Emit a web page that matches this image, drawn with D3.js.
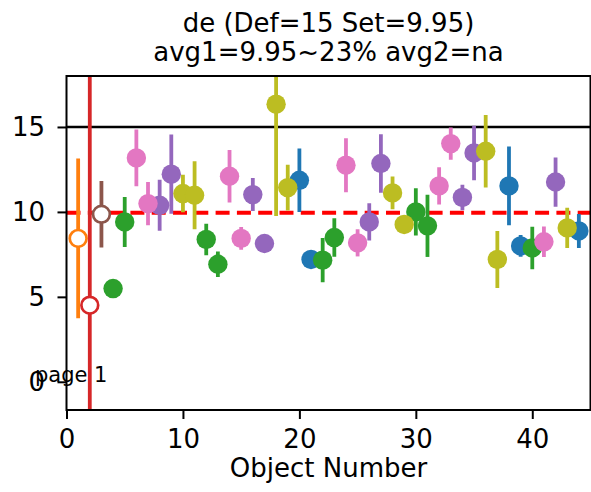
<!DOCTYPE html>
<html>
<head>
<meta charset="utf-8">
<script src="https://cdn.jsdelivr.net/npm/d3@7/dist/d3.min.js"></script>
<style>
  html, body { margin: 0; padding: 0; background: #fff; }
  text { font-family: "DejaVu Sans", sans-serif; }
</style>
</head>
<body>
<svg id="chart" width="591" height="492"></svg>
<script>
// ---- data ----
const objectNumbers = [1,2,3,4,5,6,7,8,9,10,11,12,13,14,15,16,17,18,19,20,21,22,23,24,25,26,27,28,29,30,31,32,33,34,35,36,37,38,39,40,41,42,43,44];
const values = [8.44,4.51,9.86,5.49,9.41,13.18,10.49,10.39,12.22,11.08,10.98,8.38,6.92,12.1,8.44,11.02,8.14,16.34,11.43,11.86,7.2,7.16,8.49,12.75,8.18,9.41,12.85,11.12,9.26,10.0,9.18,11.53,14.02,10.85,13.47,13.57,7.2,11.53,8.0,7.88,8.24,11.76,9.06,8.88];
const errors = [4.7,25,1.96,0.3,1.47,1.67,1.27,1.5,2.33,1.1,2.0,0.93,0.75,1.55,0.67,0.97,0.5,6.58,1.35,1.87,0.3,1.3,1.13,1.59,0.8,1.1,1.72,0.97,0.3,1.39,1.83,1.1,0.95,0.75,1.6,2.13,1.68,2.32,0.64,1.25,0.9,1.45,1.18,1.0];
const groups = ["C1","C3","C5","C2","C2","C6","C6","C4","C4","C8","C8","C2","C2","C6","C6","C4","C4","C8","C8","C0","C0","C2","C2","C6","C6","C4","C4","C8","C8","C2","C2","C6","C6","C4","C4","C8","C8","C0","C0","C2","C6","C4","C8","C0"];
const groupOrder = ["C0","C1","C2","C3","C4","C5","C6","C7","C8"];
const hollowGroups = ["C1","C3","C5"];
const xTicks = [0,10,20,30,40];
const yTicks = [0,5,10,15];
const xDomain = [0,45];
const yDomain = [-1.66,18];
const defValue = 15;
const setValue = 9.95;
const titleLines = ["de (Def=15 Set=9.95)", "avg1=9.95~23% avg2=na"];
const xLabel = "Object Number";
const pageText = "page 1";

// ---- styles ----
const palette = {C0:"#1f77b4",C1:"#ff7f0e",C2:"#2ca02c",C3:"#d62728",C4:"#9467bd",C5:"#8c564b",C6:"#e377c2",C7:"#7f7f7f",C8:"#bcbd22"};
const plot = {left:66.5, right:590.5, top:76, bottom:410};
const fs = 26;

const svg = d3.select("#chart");
const x = d3.scaleLinear().domain(xDomain).range([plot.left, plot.right]);
const y = d3.scaleLinear().domain(yDomain).range([plot.bottom, plot.top]);

svg.append("defs").append("clipPath").attr("id","clip")
  .append("rect").attr("x",plot.left).attr("y",plot.top)
  .attr("width",plot.right-plot.left).attr("height",plot.bottom-plot.top);

const g = svg.append("g").attr("clip-path","url(#clip)");

// reference lines
g.append("line").attr("x1",plot.left).attr("x2",plot.right)
  .attr("y1",y(defValue)).attr("y2",y(defValue))
  .attr("stroke","#000").attr("stroke-width",2.4);
g.append("line").attr("x1",plot.left).attr("x2",plot.right)
  .attr("y1",y(setValue)).attr("y2",y(setValue))
  .attr("stroke","#ff0000").attr("stroke-width",3.9)
  .attr("stroke-dasharray","14,7.3");

const pts = objectNumbers.map((n,i)=>({n, v:values[i], e:errors[i], grp:groups[i]}));

groupOrder.forEach(grp=>{
  const d = pts.filter(p=>p.grp===grp);
  if(!d.length) return;
  const col = palette[grp];
  const hollow = hollowGroups.includes(grp);
  const gg = g.append("g");
  gg.selectAll("line.err").data(d).join("line")
    .attr("class","err")
    .attr("x1",p=>x(p.n)).attr("x2",p=>x(p.n))
    .attr("y1",p=>y(p.v-p.e)).attr("y2",p=>y(p.v+p.e))
    .attr("stroke",col).attr("stroke-width",3.8);
  gg.selectAll("circle").data(d).join("circle")
    .attr("cx",p=>x(p.n)).attr("cy",p=>y(p.v))
    .attr("r", hollow ? 8.4 : 9.7)
    .attr("fill", hollow ? "#fff" : col)
    .attr("stroke", hollow ? col : "none")
    .attr("stroke-width", hollow ? 2.7 : 0);
});

// page text
svg.append("text").attr("x",35).attr("y",382)
  .attr("font-size",21).attr("fill","#000").text(pageText);

// axes
const xAxis = svg.append("g").attr("transform",`translate(0,${plot.bottom})`)
  .call(d3.axisBottom(x).tickValues(xTicks).tickSize(9).tickPadding(10.5).tickFormat(d3.format("d")));
const yAxis = svg.append("g").attr("transform",`translate(${plot.left},0)`)
  .call(d3.axisLeft(y).tickValues(yTicks).tickSize(9).tickPadding(12.5).tickFormat(d3.format("d")));
[xAxis,yAxis].forEach(a=>{
  a.select(".domain").remove();
  a.selectAll(".tick line").attr("stroke","#000").attr("stroke-width",2);
  a.selectAll(".tick text").attr("font-size",fs).attr("fill","#000").attr("font-family","DejaVu Sans, sans-serif");
});

// frame
svg.append("rect").attr("x",plot.left).attr("y",plot.top)
  .attr("width",plot.right-plot.left).attr("height",plot.bottom-plot.top)
  .attr("fill","none").attr("stroke","#000").attr("stroke-width",2);

// title
const cx = (plot.left+plot.right)/2;
svg.append("text").attr("x",cx).attr("y",32).attr("text-anchor","middle")
  .attr("font-size",fs).attr("fill","#000").text(titleLines[0]);
svg.append("text").attr("x",cx).attr("y",61).attr("text-anchor","middle")
  .attr("font-size",fs).attr("fill","#000").text(titleLines[1]);

// x label
svg.append("text").attr("x",cx).attr("y",477).attr("text-anchor","middle")
  .attr("font-size",fs).attr("fill","#000").text(xLabel);
</script>
</body>
</html>
